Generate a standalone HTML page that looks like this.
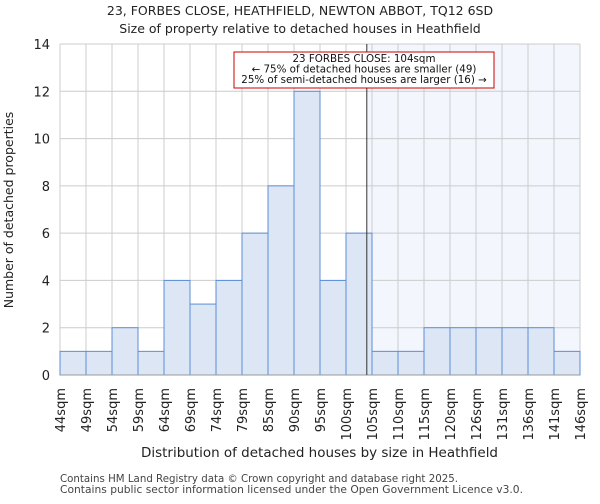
<!DOCTYPE html>
<html><head><meta charset="utf-8"><style>
body{margin:0;background:#fff;font-family:"DejaVu Sans","Liberation Sans",sans-serif}
</style></head><body>
<svg width="600" height="500" xmlns="http://www.w3.org/2000/svg" font-family="DejaVu Sans, Liberation Sans, sans-serif">
<text x="300" y="15" text-anchor="middle" font-size="12.5" fill="#222">23, FORBES CLOSE, HEATHFIELD, NEWTON ABBOT, TQ12 6SD</text>
<text x="300" y="33" text-anchor="middle" font-size="12.5" fill="#222">Size of property relative to detached houses in Heathfield</text>
<g id="plot"></g>
<text x="141" y="457" font-size="13.5" textLength="357" lengthAdjust="spacingAndGlyphs" fill="#222">Distribution of detached houses by size in Heathfield</text>
<text transform="translate(13,210) rotate(-90)" text-anchor="middle" font-size="12.5" fill="#222">Number of detached properties</text>
<text x="60" y="482" font-size="10.5" textLength="398" lengthAdjust="spacingAndGlyphs" fill="#444">Contains HM Land Registry data © Crown copyright and database right 2025.</text>
<text x="60" y="493" font-size="10.5" textLength="463" lengthAdjust="spacingAndGlyphs" fill="#444">Contains public sector information licensed under the Open Government Licence v3.0.</text>
</svg>
<script>
const binLabels=["44sqm","49sqm","54sqm","59sqm","64sqm","69sqm","74sqm","79sqm","85sqm","90sqm","95sqm","100sqm","105sqm","110sqm","115sqm","120sqm","126sqm","131sqm","136sqm","141sqm","146sqm"];
const counts=[1,1,2,1,4,3,4,6,8,12,4,6,1,1,2,2,2,2,2,1];
const yTicks=[0,2,4,6,8,10,12,14];
const markerBin=11.8;
const NS="http://www.w3.org/2000/svg";
const g=document.getElementById('plot');
const L=60,R=580,T=44,B=375,yMax=14;
const bw=(R-L)/counts.length;
const xs=i=>L+i*bw;
const ys=v=>B-v/yMax*(B-T);
function mk(t,a){const e=document.createElementNS(NS,t);for(const k in a)e.setAttribute(k,a[k]);g.appendChild(e);return e;}
const mx=xs(markerBin);
let sh=mk('rect',{x:mx,y:T,width:R-mx,height:B-T,fill:'#f3f6fd'});


yTicks.forEach(v=>{let l=mk('line',{x1:L,x2:R,y1:ys(v),y2:ys(v),stroke:'#ccc','stroke-width':1});


let t=mk('text',{x:L-10,y:ys(v)+5,'text-anchor':'end','font-size':13,fill:'#222'});t.textContent=v;

});
binLabels.forEach((s,i)=>{let l=mk('line',{x1:xs(i),x2:xs(i),y1:T,y2:B,stroke:'#ccc','stroke-width':1});


let t=mk('text',{transform:`translate(${xs(i)+5},388) rotate(-90)`,'text-anchor':'end','font-size':13,fill:'#222'});t.textContent=s;

});
counts.forEach((c,i)=>{let r=mk('rect',{x:xs(i),y:ys(c),width:bw,height:B-ys(c),fill:'#dce6f5',stroke:'#5b8ed6','stroke-width':1});

});
let ax=mk('line',{x1:L,x2:R,y1:B,y2:B,stroke:'#999'});


let ml=mk('line',{x1:mx,x2:mx,y1:T,y2:B,stroke:'#333','stroke-width':1});


let box=mk('rect',{x:234,y:52,width:260,height:36,fill:'#fff',stroke:'#c00','stroke-width':1});


["23 FORBES CLOSE: 104sqm","← 75% of detached houses are smaller (49)","25% of semi-detached houses are larger (16) →"].forEach((s,i)=>{let t=mk('text',{x:364,y:62+i*10.5,'text-anchor':'middle','font-size':10.3,fill:'#111'});t.textContent=s;

});
</script>
</body></html>
